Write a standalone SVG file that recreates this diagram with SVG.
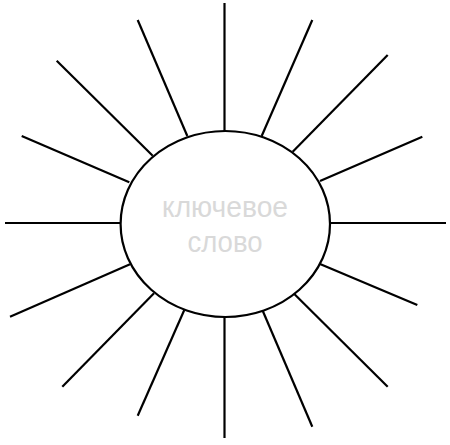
<svg xmlns="http://www.w3.org/2000/svg" width="450" height="445" viewBox="0 0 450 445">
<style>
.ray{stroke:#000;stroke-width:2.2;fill:none;stroke-linecap:butt}
.sun{fill:#fff;stroke:#000;stroke-width:2.2}
.lbl{font-family:"Liberation Sans","Open Sans",sans-serif;font-size:30px;fill:#d9d9d9;text-anchor:middle}
</style>
<rect width="450" height="445" fill="#fff"/>
<g id="connectors">
<line class="ray" x1="224.5" y1="3" x2="224.5" y2="131"/>
<line class="ray" x1="224.5" y1="317" x2="224.5" y2="438"/>
<line class="ray" x1="5" y1="223" x2="121" y2="223"/>
<line class="ray" x1="330" y1="223" x2="446" y2="223"/>
<line class="ray" x1="21.7" y1="136" x2="129.3" y2="182.3"/>
<line class="ray" x1="56.7" y1="60.7" x2="152.7" y2="155.7"/>
<line class="ray" x1="137.7" y1="20" x2="187.3" y2="136"/>
<line class="ray" x1="312.3" y1="20" x2="261.7" y2="136"/>
<line class="ray" x1="387.7" y1="55" x2="292.7" y2="151.7"/>
<line class="ray" x1="422.3" y1="136.7" x2="320" y2="181"/>
<line class="ray" x1="10" y1="316.7" x2="130" y2="264.3"/>
<line class="ray" x1="62.3" y1="386.7" x2="154" y2="293.3"/>
<line class="ray" x1="137.7" y1="415.7" x2="184.3" y2="310"/>
<line class="ray" x1="320" y1="264" x2="417.3" y2="305"/>
<line class="ray" x1="294.3" y1="294" x2="387.7" y2="386.7"/>
<line class="ray" x1="262.7" y1="310.7" x2="312.3" y2="426.7"/>
</g>
<g id="center">
<ellipse class="sun" cx="225.3" cy="224" rx="104.7" ry="93"/>
<text class="lbl" x="225" y="217" textLength="126" lengthAdjust="spacingAndGlyphs">ключевое</text>
<text class="lbl" x="225" y="252" textLength="75" lengthAdjust="spacingAndGlyphs">слово</text>
</g>
</svg>
